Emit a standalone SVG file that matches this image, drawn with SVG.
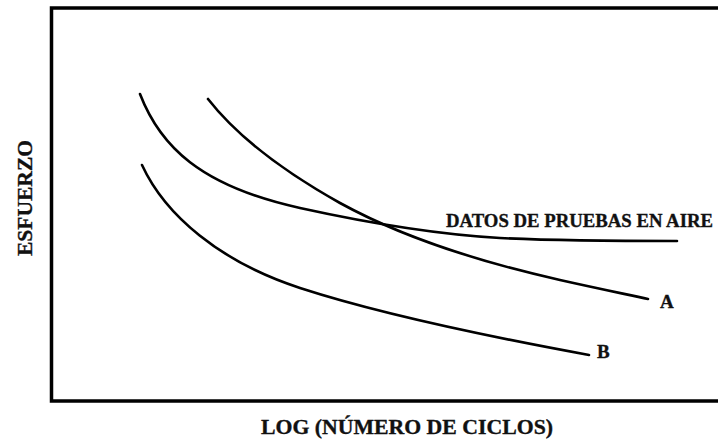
<svg xmlns="http://www.w3.org/2000/svg" width="718" height="443" viewBox="0 0 718 443">
<style>
.frame{fill:none;stroke:#000;stroke-width:3.5;stroke-linecap:butt}
.curve{fill:none;stroke:#000;stroke-width:2.6;stroke-linecap:round}
.lbl{font-family:"Liberation Serif","DejaVu Serif",serif;font-weight:bold;fill:#111;stroke:#111;stroke-width:0.35}
</style>
<rect width="718" height="443" fill="#fff"/>
<g id="frame">
<path class="frame" d="M718,8 H51.5 V401 H718"/>
</g>
<g id="connectors">
<path id="air" class="curve" d="M140,94 C160,146 200,186 300,208 C350,219 430,234 500,238 C560,241 620,241 677,241"/>
<path id="curveA" class="curve" d="M208,99 C240,140 290,175 340,203 C400,236 480,262 560,280 C600,289 630,295 648,299"/>
<path id="curveB" class="curve" d="M142,165 C165,215 220,262 300,288 C380,314 480,335 589,355"/>
</g>
<g id="label-air"><text class="lbl" x="446" y="227" font-size="18.5" textLength="267" lengthAdjust="spacingAndGlyphs">DATOS DE PRUEBAS EN AIRE</text></g>
<g id="label-A"><text class="lbl" x="660" y="308" font-size="19">A</text></g>
<g id="label-B"><text class="lbl" x="597" y="358" font-size="19">B</text></g>
<g id="label-x"><text class="lbl" x="261" y="434" font-size="21" textLength="292" lengthAdjust="spacingAndGlyphs">LOG (NÚMERO DE CICLOS)</text></g>
<g id="label-y"><text class="lbl" transform="translate(32,256) rotate(-90)" x="0" y="0" font-size="21" textLength="116" lengthAdjust="spacingAndGlyphs">ESFUERZO</text></g>
</svg>
